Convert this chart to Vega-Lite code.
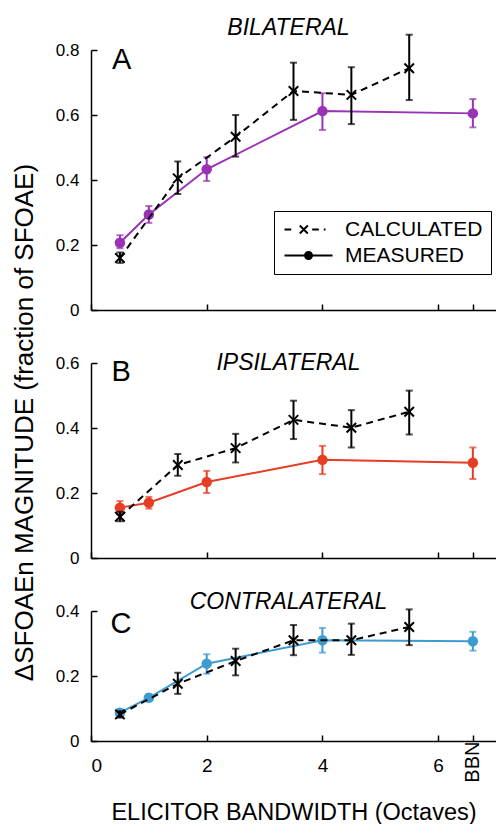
{
  "$schema": "https://vega.github.io/schema/vega-lite/v6.json",
  "padding": {"left": 10, "top": 16, "right": 0, "bottom": 0},
  "data": {"values": [
    {"panel": "A", "series": "CALCULATED", "x": 0.5, "y": 0.16, "lo": 0.145, "hi": 0.177},
    {"panel": "A", "series": "CALCULATED", "x": 1.5, "y": 0.405, "lo": 0.357, "hi": 0.457},
    {"panel": "A", "series": "CALCULATED", "x": 2.5, "y": 0.533, "lo": 0.472, "hi": 0.6},
    {"panel": "A", "series": "CALCULATED", "x": 3.5, "y": 0.674, "lo": 0.585, "hi": 0.761},
    {"panel": "A", "series": "CALCULATED", "x": 4.5, "y": 0.662, "lo": 0.572, "hi": 0.747},
    {"panel": "A", "series": "CALCULATED", "x": 5.5, "y": 0.744, "lo": 0.646, "hi": 0.847},
    {"panel": "A", "series": "MEASURED", "x": 0.5, "y": 0.207, "lo": 0.19, "hi": 0.23},
    {"panel": "A", "series": "MEASURED", "x": 1.0, "y": 0.294, "lo": 0.268, "hi": 0.32},
    {"panel": "A", "series": "MEASURED", "x": 2.0, "y": 0.433, "lo": 0.397, "hi": 0.47},
    {"panel": "A", "series": "MEASURED", "x": 4.0, "y": 0.612, "lo": 0.554, "hi": 0.667},
    {"panel": "A", "series": "MEASURED", "x": 6.6, "y": 0.605, "lo": 0.562, "hi": 0.649},
    {"panel": "B", "series": "CALCULATED", "x": 0.5, "y": 0.127, "lo": 0.113, "hi": 0.142},
    {"panel": "B", "series": "CALCULATED", "x": 1.5, "y": 0.286, "lo": 0.253, "hi": 0.32},
    {"panel": "B", "series": "CALCULATED", "x": 2.5, "y": 0.338, "lo": 0.294, "hi": 0.382},
    {"panel": "B", "series": "CALCULATED", "x": 3.5, "y": 0.425, "lo": 0.366, "hi": 0.484},
    {"panel": "B", "series": "CALCULATED", "x": 4.5, "y": 0.401, "lo": 0.34, "hi": 0.455},
    {"panel": "B", "series": "CALCULATED", "x": 5.5, "y": 0.45, "lo": 0.38, "hi": 0.515},
    {"panel": "B", "series": "MEASURED", "x": 0.5, "y": 0.155, "lo": 0.135, "hi": 0.175},
    {"panel": "B", "series": "MEASURED", "x": 1.0, "y": 0.17, "lo": 0.152, "hi": 0.188},
    {"panel": "B", "series": "MEASURED", "x": 2.0, "y": 0.234, "lo": 0.2, "hi": 0.268},
    {"panel": "B", "series": "MEASURED", "x": 4.0, "y": 0.302, "lo": 0.258, "hi": 0.345},
    {"panel": "B", "series": "MEASURED", "x": 6.6, "y": 0.293, "lo": 0.243, "hi": 0.34},
    {"panel": "C", "series": "CALCULATED", "x": 0.5, "y": 0.082, "lo": 0.072, "hi": 0.092},
    {"panel": "C", "series": "CALCULATED", "x": 1.5, "y": 0.176, "lo": 0.145, "hi": 0.21},
    {"panel": "C", "series": "CALCULATED", "x": 2.5, "y": 0.246, "lo": 0.202, "hi": 0.284},
    {"panel": "C", "series": "CALCULATED", "x": 3.5, "y": 0.31, "lo": 0.264, "hi": 0.357},
    {"panel": "C", "series": "CALCULATED", "x": 4.5, "y": 0.31, "lo": 0.265, "hi": 0.361},
    {"panel": "C", "series": "CALCULATED", "x": 5.5, "y": 0.351, "lo": 0.295, "hi": 0.405},
    {"panel": "C", "series": "MEASURED", "x": 0.5, "y": 0.087, "lo": 0.077, "hi": 0.097},
    {"panel": "C", "series": "MEASURED", "x": 1.0, "y": 0.133, "lo": 0.123, "hi": 0.143},
    {"panel": "C", "series": "MEASURED", "x": 2.0, "y": 0.238, "lo": 0.207, "hi": 0.267},
    {"panel": "C", "series": "MEASURED", "x": 4.0, "y": 0.31, "lo": 0.272, "hi": 0.348},
    {"panel": "C", "series": "MEASURED", "x": 6.6, "y": 0.307, "lo": 0.278, "hi": 0.336}
  ]},
  "spacing": 53,
  "bounds": "flush",
  "vconcat": [
    {
      "width": 405, "height": 260,
      "title": {"text": "BILATERAL", "fontSize": 23, "fontStyle": "italic", "fontWeight": "normal", "offset": 8, "dy": 14, "dx": -5},
      "transform": [{"filter": "datum.panel == 'A'"}],
      "encoding": {"x": {"field": "x", "type": "quantitative", "scale": {"domain": [0, 7], "nice": false, "zero": false}, "axis": {"values": [0, 2, 4, 6, 6.6], "labels": false, "title": null}}},
      "layer": [
        {"transform": [{"filter": "false"}], "mark": {"type": "point", "filled": false, "opacity": 1, "color": "black", "strokeWidth": 2},
         "encoding": {"shape": {"field": "series", "type": "nominal",
           "scale": {"domain": ["CALCULATED", "MEASURED"], "range": ["M-1,0L-0.16,0M0.91,-0.5L1.91,0.5M1.91,-0.5L0.91,0.5M2.46,0L3.29,0M3.91,0L4.13,0", "M-1,0L5,0M2.44,0A0.44,0.44 0 1,1 1.56,0A0.44,0.44 0 1,1 2.44,0M2.25,0A0.25,0.25 0 1,1 1.75,0A0.25,0.25 0 1,1 2.25,0M2.08,0A0.08,0.08 0 1,1 1.92,0A0.08,0.08 0 1,1 2.08,0"]},
           "legend": {"title": null, "orient": "none", "legendX": 183, "legendY": 161, "strokeColor": "black", "fillColor": "white", "padding": 8, "labelFontSize": 21, "labelColor": "black", "labelOffset": 42, "symbolSize": 256, "symbolStrokeWidth": 2, "symbolStrokeColor": "black", "symbolOpacity": 1, "rowPadding": 4, "cornerRadius": 0}}}},
        {"transform": [{"filter": "datum.series == 'MEASURED'"}], "mark": {"type": "errorbar", "ticks": {"size": 7}, "thickness": 2, "color": "#9932B5"},
         "encoding": {"y": {"field": "lo", "type": "quantitative", "title": "ΔSFOAEn MAGNITUDE (fraction of SFOAE)", "scale": {"domain": [0, 0.8], "nice": false}, "axis": {"values": [0, 0.2, 0.4, 0.6, 0.8], "labelExpr": "datum.value == 0 ? '0' : format(datum.value, '.1f')", "titleFontSize": 26, "titleAngle": 270, "titleX": -67, "titleY": 372, "titleAlign": "center", "titleBaseline": "middle"}}, "y2": {"field": "hi"}}},
        {"transform": [{"filter": "datum.series == 'MEASURED'"}], "mark": {"type": "line", "color": "#9932B5", "strokeWidth": 2}, "encoding": {"y": {"field": "y", "type": "quantitative", "title": "ΔSFOAEn MAGNITUDE (fraction of SFOAE)"}}},
        {"transform": [{"filter": "datum.series == 'MEASURED'"}], "mark": {"type": "point", "shape": "circle", "filled": true, "size": 110, "opacity": 1, "color": "#9932B5"}, "encoding": {"y": {"field": "y", "type": "quantitative", "title": "ΔSFOAEn MAGNITUDE (fraction of SFOAE)"}}},
        {"transform": [{"filter": "datum.series == 'CALCULATED'"}], "mark": {"type": "errorbar", "ticks": {"size": 7}, "thickness": 2, "color": "black"}, "encoding": {"y": {"field": "lo", "type": "quantitative", "title": "ΔSFOAEn MAGNITUDE (fraction of SFOAE)"}, "y2": {"field": "hi"}}},
        {"transform": [{"filter": "datum.series == 'CALCULATED'"}], "mark": {"type": "line", "color": "black", "strokeWidth": 2, "strokeDash": [7, 5]}, "encoding": {"y": {"field": "y", "type": "quantitative", "title": "ΔSFOAEn MAGNITUDE (fraction of SFOAE)"}}},
        {"transform": [{"filter": "datum.series == 'CALCULATED'"}], "mark": {"type": "point", "shape": "M-1,-1L1,1M1,-1L-1,1", "filled": false, "size": 90, "opacity": 1, "color": "black", "strokeWidth": 2}, "encoding": {"y": {"field": "y", "type": "quantitative", "title": "ΔSFOAEn MAGNITUDE (fraction of SFOAE)"}}},
        {"transform": [{"filter": "datum.series == 'MEASURED' && datum.x == 0.5"}], "mark": {"type": "text", "text": "A", "fontSize": 29, "fontWeight": "normal", "align": "center", "baseline": "middle", "color": "black"}, "encoding": {"x": {"datum": 0.53}, "y": {"datum": 0.768}}}
      ]
    },
    {
      "width": 405, "height": 195,
      "title": {"text": "IPSILATERAL", "fontSize": 23, "fontStyle": "italic", "fontWeight": "normal", "offset": 0, "dy": 21, "dx": -5},
      "transform": [{"filter": "datum.panel == 'B'"}],
      "encoding": {"x": {"field": "x", "type": "quantitative", "scale": {"domain": [0, 7], "nice": false, "zero": false}, "axis": {"values": [0, 2, 4, 6, 6.6], "labels": false, "title": null}}},
      "layer": [
        {"transform": [{"filter": "datum.series == 'MEASURED'"}], "mark": {"type": "errorbar", "ticks": {"size": 7}, "thickness": 2, "color": "#E63D25"},
         "encoding": {"y": {"field": "lo", "type": "quantitative", "scale": {"domain": [0, 0.6], "nice": false}, "axis": {"values": [0, 0.2, 0.4, 0.6], "labelExpr": "datum.value == 0 ? '0' : format(datum.value, '.1f')", "title": null}}, "y2": {"field": "hi"}}},
        {"transform": [{"filter": "datum.series == 'MEASURED'"}], "mark": {"type": "line", "color": "#E63D25", "strokeWidth": 2}, "encoding": {"y": {"field": "y", "type": "quantitative"}}},
        {"transform": [{"filter": "datum.series == 'MEASURED'"}], "mark": {"type": "point", "shape": "circle", "filled": true, "size": 110, "opacity": 1, "color": "#E63D25"}, "encoding": {"y": {"field": "y", "type": "quantitative"}}},
        {"transform": [{"filter": "datum.series == 'CALCULATED'"}], "mark": {"type": "errorbar", "ticks": {"size": 7}, "thickness": 2, "color": "black"}, "encoding": {"y": {"field": "lo", "type": "quantitative"}, "y2": {"field": "hi"}}},
        {"transform": [{"filter": "datum.series == 'CALCULATED'"}], "mark": {"type": "line", "color": "black", "strokeWidth": 2, "strokeDash": [7, 5]}, "encoding": {"y": {"field": "y", "type": "quantitative"}}},
        {"transform": [{"filter": "datum.series == 'CALCULATED'"}], "mark": {"type": "point", "shape": "M-1,-1L1,1M1,-1L-1,1", "filled": false, "size": 90, "opacity": 1, "color": "black", "strokeWidth": 2}, "encoding": {"y": {"field": "y", "type": "quantitative"}}},
        {"transform": [{"filter": "datum.series == 'MEASURED' && datum.x == 0.5"}], "mark": {"type": "text", "text": "B", "fontSize": 29, "fontWeight": "normal", "align": "center", "baseline": "middle", "color": "black"}, "encoding": {"x": {"datum": 0.52}, "y": {"datum": 0.572}}}
      ]
    },
    {
      "width": 405, "height": 130,
      "title": {"text": "CONTRALATERAL", "fontSize": 23, "fontStyle": "italic", "fontWeight": "normal", "offset": 0, "dy": 12, "dx": -5},
      "transform": [{"filter": "datum.panel == 'C'"}],
      "resolve": {"axis": {"x": "independent"}},
      "layer": [
        {
          "encoding": {"x": {"field": "x", "type": "quantitative", "scale": {"domain": [0, 7], "nice": false, "zero": false}, "axis": {"values": [0, 2, 4, 6, 6.6], "labelExpr": "datum.value > 6.5 ? '' : datum.label", "labelFontSize": 19, "labelPadding": 21, "title": "ELICITOR BANDWIDTH (Octaves)", "titleFontSize": 23.5, "titlePadding": 25}}},
          "layer": [
            {"transform": [{"filter": "datum.series == 'MEASURED'"}], "mark": {"type": "errorbar", "ticks": {"size": 7}, "thickness": 2, "color": "#3E9BD2"},
             "encoding": {"y": {"field": "lo", "type": "quantitative", "scale": {"domain": [0, 0.4], "nice": false}, "axis": {"values": [0, 0.2, 0.4], "labelExpr": "datum.value == 0 ? '0' : format(datum.value, '.1f')", "title": null}}, "y2": {"field": "hi"}}},
            {"transform": [{"filter": "datum.series == 'MEASURED'"}], "mark": {"type": "line", "color": "#3E9BD2", "strokeWidth": 2}, "encoding": {"y": {"field": "y", "type": "quantitative"}}},
            {"transform": [{"filter": "datum.series == 'MEASURED'"}], "mark": {"type": "point", "shape": "circle", "filled": true, "size": 110, "opacity": 1, "color": "#3E9BD2"}, "encoding": {"y": {"field": "y", "type": "quantitative"}}},
            {"transform": [{"filter": "datum.series == 'CALCULATED'"}], "mark": {"type": "errorbar", "ticks": {"size": 7}, "thickness": 2, "color": "black"}, "encoding": {"y": {"field": "lo", "type": "quantitative"}, "y2": {"field": "hi"}}},
            {"transform": [{"filter": "datum.series == 'CALCULATED'"}], "mark": {"type": "line", "color": "black", "strokeWidth": 2, "strokeDash": [7, 5]}, "encoding": {"y": {"field": "y", "type": "quantitative"}}},
            {"transform": [{"filter": "datum.series == 'CALCULATED'"}], "mark": {"type": "point", "shape": "M-1,-1L1,1M1,-1L-1,1", "filled": false, "size": 90, "opacity": 1, "color": "black", "strokeWidth": 2}, "encoding": {"y": {"field": "y", "type": "quantitative"}}},
            {"transform": [{"filter": "datum.series == 'MEASURED' && datum.x == 0.5"}], "mark": {"type": "text", "text": "C", "fontSize": 29, "fontWeight": "normal", "align": "center", "baseline": "middle", "color": "black"}, "encoding": {"x": {"datum": 0.52}, "y": {"datum": 0.36}}}
          ]
        },
        {
          "transform": [{"filter": "false"}],
          "mark": {"type": "rule"},
          "encoding": {"x": {"field": "x", "type": "quantitative", "scale": {"domain": [0, 7], "nice": false, "zero": false}, "axis": {"orient": "bottom", "values": [6.6], "labelExpr": "'BBN'", "labelAngle": -90, "labelFontSize": 20, "labelPadding": 0, "domain": false, "ticks": false, "title": null}}}
        }
      ]
    }
  ],
  "config": {
    "font": "Liberation Sans",
    "view": {"stroke": null},
    "axis": {"domainColor": "black", "domainWidth": 1.5, "tickColor": "black", "tickWidth": 1.5, "tickSize": -6, "labelColor": "black", "labelFontSize": 17, "labelPadding": 18, "grid": false, "titleColor": "black", "titleFontWeight": "normal"},
    "title": {"color": "black"}
  }
}
